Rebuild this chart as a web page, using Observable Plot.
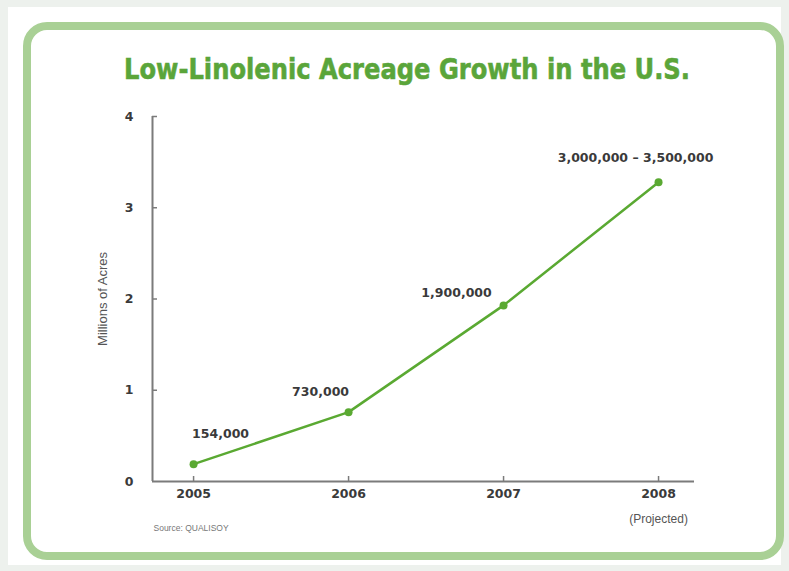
<!DOCTYPE html>
<html><head><meta charset="utf-8">
<script src="https://cdn.jsdelivr.net/npm/d3@7"></script>
<script src="https://cdn.jsdelivr.net/npm/@observablehq/plot@0.6"></script>
<style>
body{margin:0;background:#edf1ed;width:789px;height:571px;overflow:hidden;position:relative;font-family:"DejaVu Sans",sans-serif}
#page{position:absolute;left:8px;top:7px;width:773px;height:558px;background:#fff}
#frame{position:absolute;left:23px;top:22px;width:761px;height:538px;box-sizing:border-box;border:8px solid #a9d095;border-radius:24px}
#title{position:absolute;left:124px;top:53px;white-space:nowrap;font-family:"DejaVu Sans",sans-serif;font-weight:bold;font-size:28.5px;line-height:34px;color:#5aa53a;-webkit-text-stroke:0.6px #5aa53a;transform-origin:0 0;display:inline-block}
#chart{position:absolute;left:0;top:0}
</style></head><body>
<div id="page"></div><div id="frame"></div>
<div id="title">Low-Linolenic Acreage Growth in the U.S.</div>
<div id="chart"></div>
<script>
const years = [2005, 2006, 2007, 2008];
const acresMillions = [0.19, 0.76, 1.93, 3.28];
const valueLabels = ["154,000", "730,000", "1,900,000", "3,000,000 – 3,500,000"];
const yTicks = [0, 1, 2, 3, 4];
const yLabel = "Millions of Acres";
const projectedNote = "(Projected)";
const sourceNote = "Source: QUALISOY";

const data = years.map((year, i) => ({year, value: acresMillions[i], label: valueLabels[i]}));

// fit the title into its measured width with a horizontal squeeze
const titleEl = document.getElementById("title");
const natural = titleEl.getBoundingClientRect().width;
titleEl.style.transform = `scaleX(${566 / natural})`;

// label placement offsets (layout, px)
const labelOffsets = [[27, -30], [-28, -20], [-47, -12], [-23, -24]];

const axisColor = "#7b7b7b";
const textColor = "#3a3a3a";
const green = "#5aa932";
const xMin = 2004.735, xMax = 2008.232;

const plot = Plot.plot({
  width: 789,
  height: 571,
  marginLeft: 152,
  marginRight: 95,
  marginTop: 116,
  marginBottom: 90,
  style: {background: "transparent", overflow: "visible", fontFamily: "DejaVu Sans"},
  x: {domain: [xMin, xMax], axis: null},
  y: {domain: [0, 4], axis: null},
  marks: [
    Plot.ruleX([xMin], {stroke: axisColor, strokeWidth: 2}),
    Plot.ruleY([0], {stroke: axisColor, strokeWidth: 2}),
    Plot.ruleY(yTicks.slice(1), {y: d => d, stroke: axisColor, strokeWidth: 1.5, insetRight: 537}),
    Plot.ruleX(years, {x: d => d, stroke: axisColor, strokeWidth: 1.5, insetTop: 360}),
    Plot.text(yTicks, {y: d => d, text: d => String(d), frameAnchor: "left", dx: -19, textAnchor: "end", fontWeight: "bold", fontSize: 12.5, fill: textColor}),
    Plot.text(years, {x: d => d, text: d => String(d), frameAnchor: "bottom", dy: 16, fontWeight: "bold", fontSize: 12.5, fill: textColor}),
    Plot.text([years[3]], {x: d => d, text: () => projectedNote, frameAnchor: "bottom", dy: 41, fontSize: 12, fill: "#555", fontFamily: "Liberation Sans Narrow, Liberation Sans, sans-serif"}),
    Plot.text([yLabel], {frameAnchor: "left", textAnchor: "middle", rotate: -90, dx: -50, fontSize: 13, fill: "#555", fontFamily: "Liberation Sans Narrow, Liberation Sans, sans-serif"}),
    Plot.text([sourceNote], {frameAnchor: "bottom-left", dx: 1, dy: 49, textAnchor: "start", fontSize: 8.5, fill: "#777", fontFamily: "Liberation Sans Narrow, Liberation Sans, sans-serif"}),
    Plot.line(data, {x: "year", y: "value", stroke: green, strokeWidth: 2.5}),
    Plot.dot(data, {x: "year", y: "value", r: 4, fill: green}),
    ...data.map((d, i) => Plot.text([d], {x: "year", y: "value", text: "label", dx: labelOffsets[i][0], dy: labelOffsets[i][1], fontWeight: "bold", fontSize: 12.5, fill: textColor}))
  ]
});
document.getElementById("chart").appendChild(plot);
</script>
</body></html>
